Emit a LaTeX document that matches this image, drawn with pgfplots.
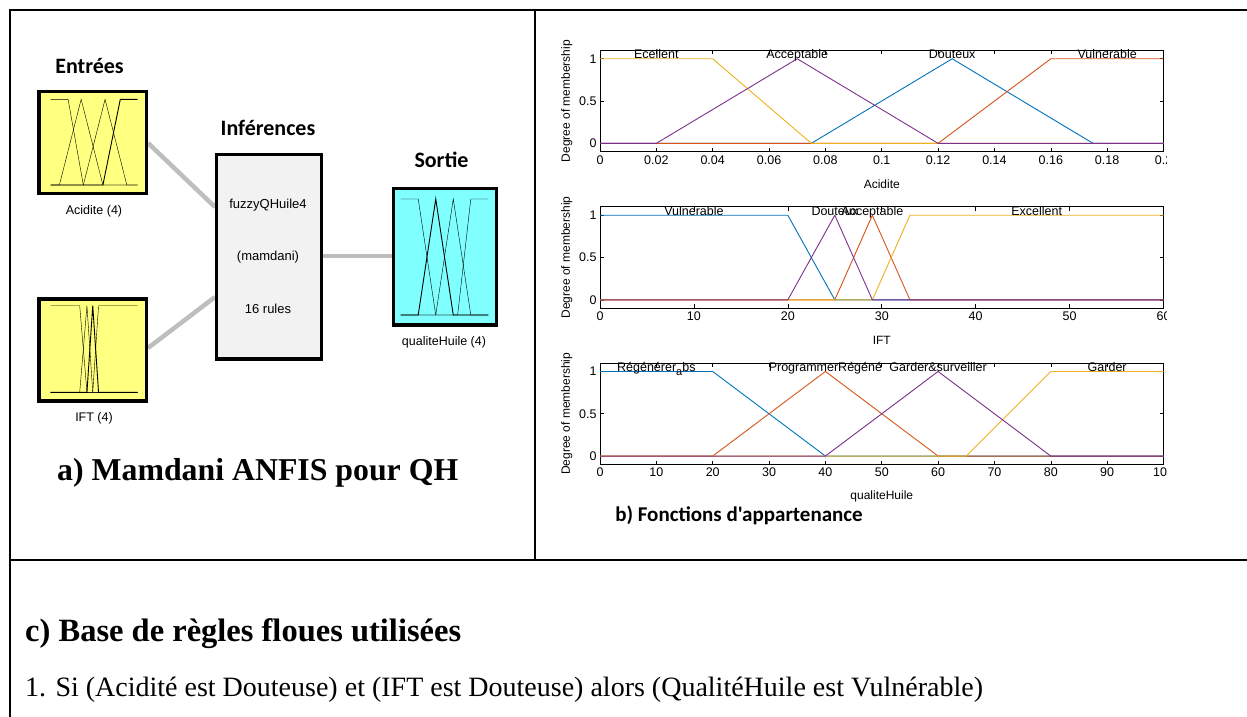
\documentclass[border=0pt]{standalone}
\usepackage{fontspec}
\setmainfont{Liberation Serif}
\newfontfamily\arial{Liberation Sans}
\newfontfamily\calibri{Carlito}
\usepackage{pgfplots}
\usepackage{pgfplotstable}
\pgfplotsset{compat=1.18}

\definecolor{mblue}{RGB}{0,114,189}
\definecolor{morange}{RGB}{217,83,25}
\definecolor{myellow}{RGB}{237,177,32}
\definecolor{mpurple}{RGB}{126,47,142}
\definecolor{inyellow}{RGB}{255,255,128}
\definecolor{outcyan}{RGB}{128,255,255}
\definecolor{rulegray}{RGB}{242,242,242}
\definecolor{linkgray}{RGB}{190,190,190}

\newcommand{\fs}[1]{\fontsize{#1}{#1}\selectfont}

% Acidite membership functions
\pgfplotstableread{
x y
0 1
0.04 1
0.075 0
0.2 0
}\acExc
\pgfplotstableread{
x y
0 0
0.02 0
0.07 1
0.12 0
0.2 0
}\acAcc
\pgfplotstableread{
x y
0 0
0.075 0
0.125 1
0.175 0
0.2 0
}\acDou
\pgfplotstableread{
x y
0 0
0.12 0
0.16 1
0.2 1
}\acVul
% IFT membership functions
\pgfplotstableread{
x y
0 1
20 1
25 0
60 0
}\ifVul
\pgfplotstableread{
x y
0 0
20 0
25 1
29 0
60 0
}\ifDou
\pgfplotstableread{
x y
0 0
25 0
29 1
33 0
60 0
}\ifAcc
\pgfplotstableread{
x y
0 0
29 0
33 1
60 1
}\ifExc
% qualiteHuile membership functions
\pgfplotstableread{
x y
0 1
20 1
40 0
100 0
}\qhReg
\pgfplotstableread{
x y
0 0
20 0
40 1
60 0
100 0
}\qhPro
\pgfplotstableread{
x y
0 0
65 0
80 1
100 1
}\qhGar
\pgfplotstableread{
x y
0 0
40 0
60 1
80 0
100 0
}\qhGsu

\pgfplotsset{
  mfplot/.style={
    scale only axis, width=563.5pt, height=101.5pt,
    anchor=south west, clip=false,
    ymin=-0.1, ymax=1.1, ytick={0,0.5,1},
    tick align=inside, major tick length=4pt,
    tick style={black, line width=0.6pt},
    axis line style={black, line width=0.9pt},
    /pgf/number format/assume math mode=true,
    ticklabel style={font=\arial\fs{12.5}},
    label style={font=\arial\fs{12}},
    ylabel={Degree of membership},
    ylabel style={at={(axis description cs:-0.059,0.5)}, anchor=center},
    xlabel style={at={(axis description cs:0.5,-0.317)}, anchor=center},
    every axis plot/.append style={line width=0.9pt},
  },
  mini/.style={
    hide axis, scale only axis, anchor=south west, clip=false,
    ymin=0, ymax=1,
    cycle list={{black, line width=0.9pt, no markers}},
  },
}

\begin{document}
\begin{tikzpicture}
\path[use as bounding box] (0pt,0pt) rectangle (1247pt,-716pt);

% table frame
\draw[line width=2pt] (10pt,-10pt) -- (1250pt,-10pt);
\draw[line width=2pt] (10pt,-9pt) -- (10pt,-720pt);
\draw[line width=2pt] (535pt,-10pt) -- (535pt,-560pt);
\draw[line width=2pt] (10pt,-560pt) -- (1250pt,-560pt);

% a) FIS diagram
\draw[linkgray, line width=4.5pt] (148pt,-143pt) -- (215pt,-207pt);
\draw[linkgray, line width=4.5pt] (148pt,-348pt) -- (215pt,-297pt);
\draw[linkgray, line width=4.5pt] (322pt,-256pt) -- (392pt,-256pt);
\draw[line width=3.4pt, fill=inyellow] (39pt,-91.7pt) rectangle (146.6pt,-193.3pt);
\draw[line width=3.4pt, fill=inyellow] (39pt,-299pt) rectangle (146.6pt,-401pt);
\draw[line width=3.4pt, fill=rulegray] (216.2pt,-154.7pt) rectangle (321.3pt,-359pt);
\draw[line width=3.4pt, fill=outcyan] (393.4pt,-188.4pt) rectangle (496.6pt,-325pt);

\begin{axis}[mini, at={(50.7pt,-185pt)}, width=87pt, height=85.7pt, xmin=0, xmax=0.2]
\addplot table {\acDou};
\addplot table {\acVul};
\addplot table {\acExc};
\addplot table {\acAcc};
\end{axis}
\begin{axis}[mini, at={(50.7pt,-392.3pt)}, width=87pt, height=86.6pt, xmin=0, xmax=60]
\addplot table {\ifVul};
\addplot table {\ifAcc};
\addplot table {\ifExc};
\addplot table {\ifDou};
\end{axis}
\begin{axis}[mini, at={(400.7pt,-315pt)}, width=87.6pt, height=116pt, xmin=0, xmax=100]
\addplot table {\qhReg};
\addplot table {\qhPro};
\addplot table {\qhGar};
\addplot table {\qhGsu};
\end{axis}

\node[font=\calibri\bfseries\fs{22}] at (89.5pt,-66pt) {Entrées};
\node[font=\calibri\bfseries\fs{22}] at (268pt,-128pt) {Inférences};
\node[font=\calibri\bfseries\fs{22}] at (441.5pt,-160pt) {Sortie};
\node[font=\arial\fs{12.5}] at (94pt,-211pt) {Acidite (4)};
\node[font=\arial\fs{12.5}] at (94pt,-418pt) {IFT (4)};
\node[font=\arial\fs{12.5}] at (444pt,-342pt) {qualiteHuile (4)};
\node[font=\arial\fs{13}] at (268pt,-205pt) {fuzzyQHuile4};
\node[font=\arial\fs{13}] at (268pt,-257pt) {(mamdani)};
\node[font=\arial\fs{13}] at (268pt,-309pt) {16 rules};
\node[anchor=base west, inner sep=0pt, font=\bfseries\fs{31.8}] at (57pt,-480pt) {a) Mamdani ANFIS pour QH};

% b) membership functions
\begin{scope}
\clip (537pt,-12pt) rectangle (1166pt,-545pt);
\begin{axis}[mfplot, at={(600pt,-151.8pt)},
  xmin=0, xmax=0.2, xlabel={Acidite},
  xtick={0,0.02,0.04,0.06,0.08,0.1,0.12,0.14,0.16,0.18,0.2},
  xticklabels={0,0.02,0.04,0.06,0.08,0.1,0.12,0.14,0.16,0.18,0.2}]
\addplot[mblue] table {\acDou};
\addplot[morange] table {\acVul};
\addplot[myellow] table {\acExc};
\addplot[mpurple] table {\acAcc};
\node[anchor=base, font=\arial\fs{12.5}] at (axis cs:0.02,1) {Ecellent};
\node[anchor=base, font=\arial\fs{12.5}] at (axis cs:0.07,1) {Acceptable};
\node[anchor=base, font=\arial\fs{12.5}] at (axis cs:0.125,1) {Douteux};
\node[anchor=base, font=\arial\fs{12.5}] at (axis cs:0.18,1) {Vulnerable};
\end{axis}

\begin{axis}[mfplot, at={(600pt,-308.3pt)},
  xmin=0, xmax=60, xlabel={IFT},
  xtick={0,10,20,30,40,50,60},
  xticklabels={0,10,20,30,40,50,60}]
\addplot[mblue] table {\ifVul};
\addplot[morange] table {\ifAcc};
\addplot[myellow] table {\ifExc};
\addplot[mpurple] table {\ifDou};
\node[anchor=base, font=\arial\fs{12.5}] at (axis cs:10,1) {Vulnerable};
\node[anchor=base, font=\arial\fs{12.5}] at (axis cs:25,1) {Douteux};
\node[anchor=base, font=\arial\fs{12.5}] at (axis cs:29,1) {Acceptable};
\node[anchor=base, font=\arial\fs{12.5}] at (axis cs:46.5,1) {Excellent};
\end{axis}

\begin{axis}[mfplot, at={(600pt,-464.5pt)},
  xmin=0, xmax=100, xlabel={qualiteHuile},
  xtick={0,10,20,30,40,50,60,70,80,90,100},
  xticklabels={0,10,20,30,40,50,60,70,80,90,100}]
\addplot[mblue] table {\qhReg};
\addplot[morange] table {\qhPro};
\addplot[myellow] table {\qhGar};
\addplot[mpurple] table {\qhGsu};
\node[anchor=base, font=\arial\fs{12.5}] at (axis cs:10,1) {Régénérer\raisebox{-0.6ex}{\fs{11}a}bs};
\node[anchor=base, font=\arial\fs{12.5}] at (axis cs:40,1) {ProgrammerRégéné};
\node[anchor=base, font=\arial\fs{12.5}] at (axis cs:60,1) {Garder\&surveiller};
\node[anchor=base, font=\arial\fs{12.5}] at (axis cs:90,1) {Garder};
\end{axis}
\end{scope}
\node[font=\calibri\bfseries\fs{21}] at (739pt,-515pt) {b) Fonctions d'appartenance};

% c) rule base
\node[anchor=base west, inner sep=0pt, font=\bfseries\fs{32.5}] at (25pt,-641pt) {c) Base de règles floues utilisées};
\node[anchor=base west, inner sep=0pt, font=\fs{28}] at (25pt,-696pt) {1. Si (Acidité est Douteuse) et (IFT est Douteuse) alors (QualitéHuile est Vulnérable)};
\end{tikzpicture}
\end{document}
